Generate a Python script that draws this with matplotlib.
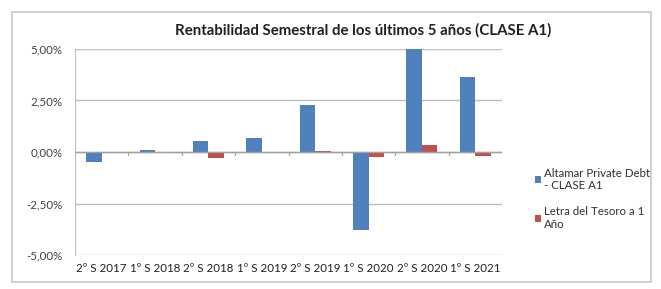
import matplotlib
matplotlib.use("Agg")
import matplotlib.pyplot as plt
from matplotlib.patches import Rectangle
import numpy as np

categories = ["2º S 2017", "1º S 2018", "2º S 2018", "1º S 2019", "2º S 2019",
              "1º S 2020", "2º S 2020", "1º S 2021"]
altamar = [-0.49, 0.12, 0.52, 0.68, 2.28, -3.78, 5.0, 3.66]
letra = [0.0, 0.0, -0.27, 0.0, 0.05, -0.25, 0.33, -0.17]
series_names = ["Altamar Private Debt\n- CLASE A1", "Letra del Tesoro a 1\nAño"]
yticks = [-5.0, -2.5, 0.0, 2.5, 5.0]
ytick_labels = ["-5,00%", "-2,50%", "0,00%", "2,50%", "5,00%"]
title = "Rentabilidad Semestral de los últimos 5 años (CLASE A1)"

W, H = 661, 289
plt.rcParams['font.family'] = ['Lato', 'DejaVu Sans']
fig = plt.figure(figsize=(W / 100, H / 100), dpi=100)

# outer chart border
fig.patches.append(Rectangle((12 / W, 1 - 282 / H), (651 - 12) / W, (282 - 12) / H,
                             transform=fig.transFigure, fill=False,
                             edgecolor="#c8c8c8", linewidth=1.2))

ax = fig.add_axes([75 / W, 1 - 255 / H, (502 - 75) / W, (255 - 49) / H])
x = np.arange(len(categories))
bw = 0.29
blue = "#4F81BD"
red = "#C0504D"
ax.bar(x - bw / 2, altamar, width=bw, color=blue, label=series_names[0], zorder=3)
ax.bar(x + bw / 2, letra, width=bw, color=red, label=series_names[1], zorder=3)

ax.set_xlim(-0.5, len(categories) - 0.5)
ax.set_ylim(-5.0, 5.0)
ax.set_yticks(yticks)
ax.set_yticklabels(ytick_labels, fontsize=8.3, color="#404040")
ax.yaxis.grid(True, color="#bfbfbf", linewidth=1.0, zorder=0)
ax.tick_params(axis="y", length=0, pad=9)
for s in ["top", "right", "bottom"]:
    ax.spines[s].set_visible(False)
ax.spines["left"].set_color("#bfbfbf")

# zero axis line with category ticks
ax.axhline(0, color="#a0a0a0", linewidth=1.0, zorder=4)
for b in np.arange(0.5, len(categories) - 0.5, 1.0):
    ax.plot([b, b], [0, -0.15], color="#a0a0a0", linewidth=0.8, zorder=4)
ax.set_xticks(x)
ax.set_xticklabels(categories, fontsize=8.3, color="#202020")
ax.tick_params(axis="x", length=0, pad=6)

fig.text(363 / W, 1 - 30 / H, title, ha="center", va="center", fontsize=10.8,
         fontweight="bold", color="#202020")

leg = fig.legend(loc="upper left", bbox_to_anchor=(530 / W, 1 - 163 / H),
                 frameon=False, fontsize=8.3, handlelength=0.55, handleheight=0.55,
                 handletextpad=0.3, labelspacing=1.3, borderaxespad=0)
for t in leg.get_texts():
    t.set_color("#303030")

fig.savefig("out.png", dpi=100)
